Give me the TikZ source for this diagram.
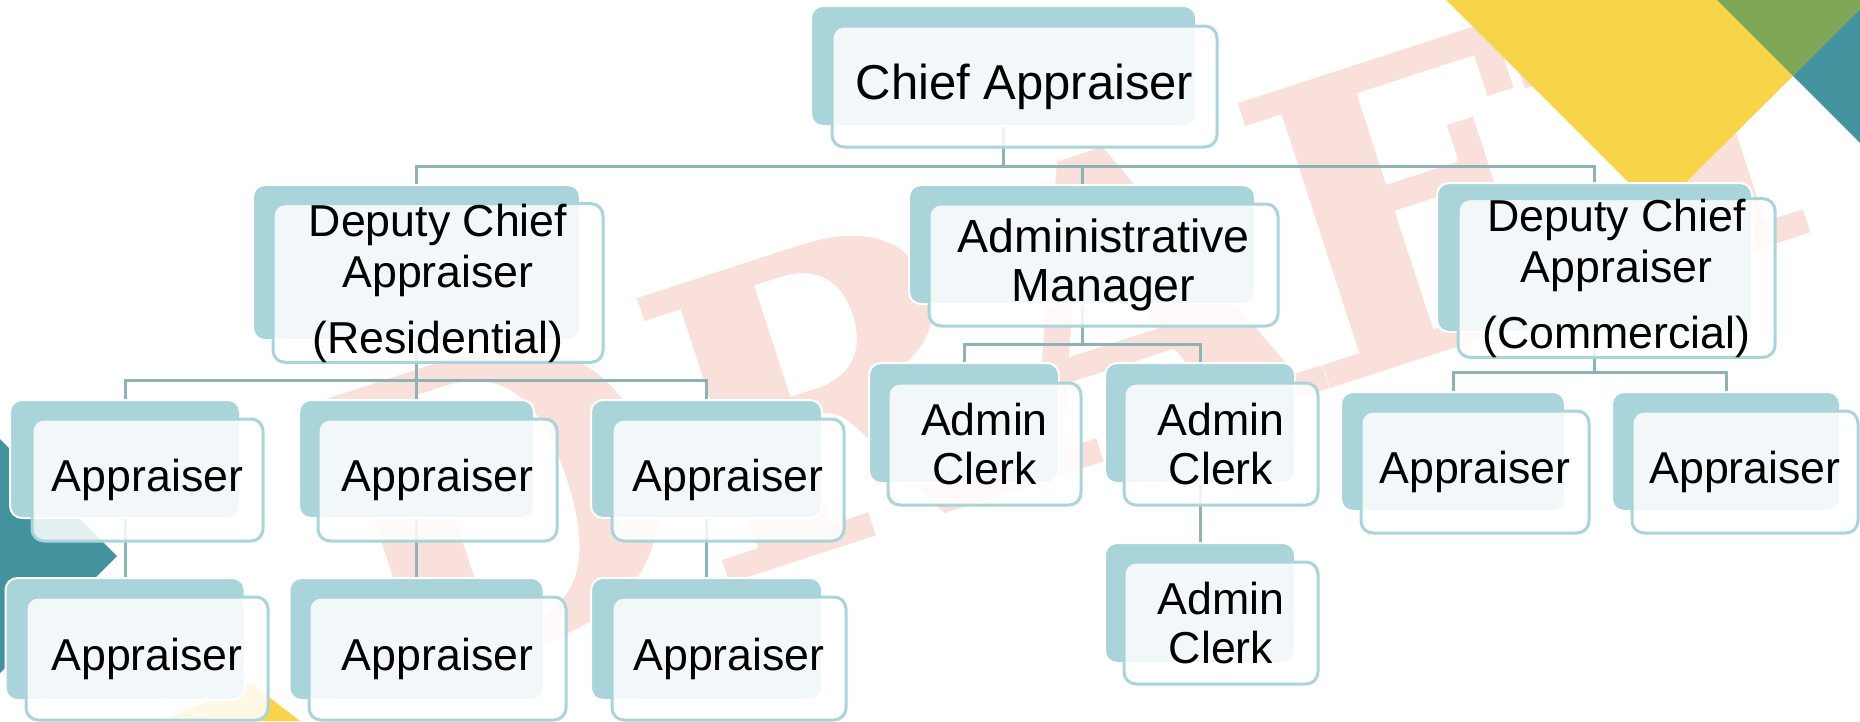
\documentclass[tikz,border=0pt]{standalone}
\usepackage{fontspec}
\setmainfont{Liberation Sans}
\newfontfamily\wmfont{DejaVu Serif}
\definecolor{backc}{HTML}{A9D4DA}
\definecolor{linec}{HTML}{8DB3B9}
\definecolor{wmc}{HTML}{F9E0DA}
\definecolor{yel}{HTML}{F8D448}
\definecolor{grn}{HTML}{7FA656}
\definecolor{tealc}{HTML}{43939F}
\pgfdeclarelayer{deco}
\pgfdeclarelayer{links}
\pgfsetlayers{deco,links,main}
\begin{document}
\begin{tikzpicture}[x=1pt,y=-1pt,
  backbox/.style={draw=white, line width=2pt, fill=backc, rounded corners=12pt, inner sep=0pt},
  frontbox/.style={draw=backc, line width=3pt, fill=white, fill opacity=0.86, text opacity=1,
    rounded corners=12pt, inner sep=0pt, align=center, font=\fontsize{44.7}{49}\selectfont},
  conn/.style={draw=linec, line width=3pt},
  wm/.style={text=wmc, inner sep=0pt, font=\wmfont\bfseries\fontsize{411}{411}\selectfont}]
\useasboundingbox (0,0) rectangle (1860,721);
\clip (0,0) rectangle (1860,721);

% ---------- nodes: back boxes and front boxes ----------
\node[backbox, minimum width=385pt, minimum height=120pt] (chiefB) at (1003.5,66) {};
\node[frontbox, minimum width=385pt, minimum height=121pt, font=\fontsize{49}{53}\selectfont] (chief) at (1024.5,86.5) {Chief Appraiser};

\node[backbox, minimum width=327pt, minimum height=155pt] (resB) at (416.5,262.5) {};
\node[frontbox, minimum width=330pt, minimum height=158pt] (res) at (438,283) {Deputy Chief\\[2pt]Appraiser\\[17pt](Residential)};

\node[backbox, minimum width=346pt, minimum height=119pt] (admB) at (1082,244.5) {};
\node[frontbox, minimum width=349pt, minimum height=122pt, font=\fontsize{46.5}{49}\selectfont] (adm) at (1103.5,265) {Administrative\\Manager};

\node[backbox, minimum width=315pt, minimum height=149pt] (comB) at (1594.5,257.5) {};
\node[frontbox, minimum width=317pt, minimum height=150pt] (com) at (1616.5,278) {Deputy Chief\\[2pt]Appraiser\\[17pt](Commercial)};

% residential appraisers
\node[backbox, minimum width=230pt, minimum height=118pt] (ra1B) at (125,459) {};
\node[frontbox, minimum width=231pt, minimum height=122pt] (ra1) at (147.5,480) {Appraiser};
\node[backbox, minimum width=235pt, minimum height=118pt] (ra2B) at (416.5,459) {};
\node[frontbox, minimum width=239pt, minimum height=122pt] (ra2) at (437.5,480) {Appraiser};
\node[backbox, minimum width=231pt, minimum height=118pt] (ra3B) at (706.5,459) {};
\node[frontbox, minimum width=232pt, minimum height=122pt] (ra3) at (728,480) {Appraiser};

\node[backbox, minimum width=239pt, minimum height=122pt] (rb1B) at (125,639) {};
\node[frontbox, minimum width=242pt, minimum height=123pt] (rb1) at (147,658.5) {Appraiser};
\node[backbox, minimum width=254pt, minimum height=122pt] (rb2B) at (416.5,639) {};
\node[frontbox, minimum width=257pt, minimum height=123pt] (rb2) at (437.5,658.5) {Appraiser};
\node[backbox, minimum width=231pt, minimum height=122pt] (rb3B) at (706.5,639) {};
\node[frontbox, minimum width=234pt, minimum height=123pt] (rb3) at (729,658.5) {Appraiser};

% admin clerks
\node[backbox, minimum width=190pt, minimum height=120pt] (ck1B) at (964,423) {};
\node[frontbox, minimum width=193pt, minimum height=122pt] (ck1) at (984.5,444) {Admin\\Clerk};
\node[backbox, minimum width=190pt, minimum height=120pt] (ck2B) at (1200,423) {};
\node[frontbox, minimum width=194pt, minimum height=122pt] (ck2) at (1221,444) {Admin\\Clerk};
\node[backbox, minimum width=190pt, minimum height=120pt] (ck3B) at (1200,603) {};
\node[frontbox, minimum width=194pt, minimum height=122pt] (ck3) at (1221,623) {Admin\\Clerk};

% commercial appraisers
\node[backbox, minimum width=224pt, minimum height=119pt] (ca1B) at (1453,451.5) {};
\node[frontbox, minimum width=228pt, minimum height=122pt] (ca1) at (1475,472) {Appraiser};
\node[backbox, minimum width=228pt, minimum height=119pt] (ca2B) at (1726,451.5) {};
\node[frontbox, minimum width=226pt, minimum height=122pt] (ca2) at (1745,472) {Appraiser};

% ---------- connectors ----------
\coordinate (bus0) at (0,166);
\coordinate (bus1) at (0,380);
\coordinate (bus2) at (0,344);
\coordinate (bus3) at (0,372);
\begin{pgfonlayer}{links}
\draw[conn] (chiefB.south) -- (chiefB.south |- bus0) -| (resB.north);
\draw[conn] (chiefB.south |- bus0) -| (admB.north);
\draw[conn] (chiefB.south |- bus0) -| (comB.north);

\draw[conn] (resB.south) -- (resB.south |- bus1) -| (ra1B.north);
\draw[conn] (resB.south |- bus1) -| (ra2B.north);
\draw[conn] (resB.south |- bus1) -| (ra3B.north);
\draw[conn] (ra1B.south) -- (rb1B.north);
\draw[conn] (ra2B.south) -- (rb2B.north);
\draw[conn] (ra3B.south) -- (rb3B.north);

\draw[conn] (admB.south) -- (admB.south |- bus2) -| (ck1B.north);
\draw[conn] (admB.south |- bus2) -| (ck2B.north);
\draw[conn] (ck2B.south) -- (ck3B.north);

\draw[conn] (comB.south) -- (comB.south |- bus3) -| (ca1B.north);
\draw[conn] (comB.south |- bus3) -| (ca2B.north);
\end{pgfonlayer}

% ---------- decorations and watermark ----------
\begin{pgfonlayer}{deco}
\node[wm, rotate=18, anchor=base west] (wmark) at (372,700) {DR\kern-14pt A\kern-14pt FT};
\fill[yel] (1446,0) -- (1657,211) -- (1793,76) -- (1717,0) -- cycle;
\fill[grn] (1717,0) -- (1860,0) -- (1860,9) -- (1793,76) -- cycle;
\fill[tealc] (1793,76) -- (1860,9) -- (1860,143) -- cycle;
\fill[tealc] (0,439) -- (117,556) -- (0,673) -- cycle;
\fill[yel] (160,721) -- (252,684) -- (300,721) -- cycle;
\end{pgfonlayer}
\end{tikzpicture}
\end{document}
